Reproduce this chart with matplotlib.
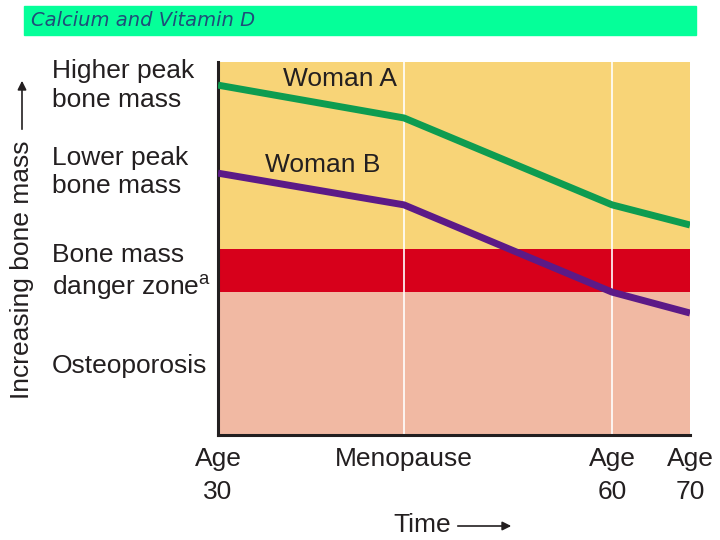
import matplotlib.pyplot as plt
from matplotlib.patches import Rectangle, FancyArrowPatch

plt.rcParams['font.family'] = ['Liberation Sans', 'DejaVu Sans']

# time positions (fraction of the time axis) and labels
time_pos = [0.0, 0.394, 0.835, 1.0]
time_labels = ["Age\n30", "Menopause", "Age\n60", "Age\n70"]

# relative bone mass (0-100)
woman_a = [93.8, 85.0, 61.7, 56.3]
woman_b = [70.2, 61.7, 38.3, 32.7]

# zones
danger_lo, danger_hi = 38.3, 49.9
zone_labels = ["Higher peak\nbone mass", "Lower peak\nbone mass",
               "Bone mass\ndanger zone$^{\\mathregular{a}}$", "Osteoporosis"]
zone_label_y = [93.6, 70.5, 43.5, 18.5]

fs = 19
ink = '#231F20'

fig = plt.figure(figsize=(7.2, 5.4), dpi=100)

# banner
fig.patches.append(Rectangle((24/720, 1-35/540), 672/720, 29/540,
                             transform=fig.transFigure, color='#05FF99', zorder=0))
fig.text(31/720, 1-20/540, "Calcium and Vitamin D", fontsize=14, style='italic',
         color='#1F4E79', family='DejaVu Sans', va='center', ha='left')

ax = fig.add_axes([218/720, 105/540, 472/720, 373/540])
ax.set_xlim(0, 1)
ax.set_ylim(0, 100)

ax.axhspan(danger_hi, 100, color='#F8D477', lw=0, zorder=0)
ax.axhspan(danger_lo, danger_hi, color='#D7001B', lw=0, zorder=0)
ax.axhspan(0, danger_lo, color='#F1B9A3', lw=0, zorder=0)
for xp in time_pos[1:3]:
    ax.axvline(xp, color='white', lw=1.2, zorder=1)

ax.plot(time_pos, woman_a, color='#0E9C50', lw=5, solid_capstyle='butt', zorder=3)
ax.plot(time_pos, woman_b, color='#5C1A87', lw=5, solid_capstyle='butt', zorder=3)
ax.text(0.138, 95.5, "Woman A", fontsize=fs, color=ink, ha='left', va='center')
ax.text(0.1, 72.5, "Woman B", fontsize=fs, color=ink, ha='left', va='center')

for s in ['top', 'right']:
    ax.spines[s].set_visible(False)
for s in ['left', 'bottom']:
    ax.spines[s].set_linewidth(2.2)
    ax.spines[s].set_color(ink)
ax.set_xticks([])
ax.set_yticks([])

# bottom labels
for xp, lab in zip(time_pos, time_labels):
    ax.text(xp, -3.2, lab, fontsize=fs, color=ink, ha='center', va='top',
            linespacing=1.5, clip_on=False)

for yp, lab in zip(zone_label_y, zone_labels):
    ax.text(-0.352, yp, lab, fontsize=fs, color=ink, ha='left', va='center',
            linespacing=1.25, clip_on=False)

# axis titles with arrows
fig.text(422/720, 1-525/540, "Time", fontsize=fs, color=ink, ha='center', va='center')
fig.add_artist(FancyArrowPatch(
    (455/720, 1-526/540), (514/720, 1-526/540), transform=fig.transFigure,
    arrowstyle='-|>', mutation_scale=13, color=ink, lw=1.2))
fig.text(22/720, 1-270/540, "Increasing bone mass", fontsize=fs, color=ink,
         rotation=90, ha='center', va='center')
fig.add_artist(FancyArrowPatch(
    (22/720, 1-132/540), (22/720, 1-78/540), transform=fig.transFigure,
    arrowstyle='-|>', mutation_scale=13, color=ink, lw=1.2))

fig.savefig('out.png', dpi=100)
